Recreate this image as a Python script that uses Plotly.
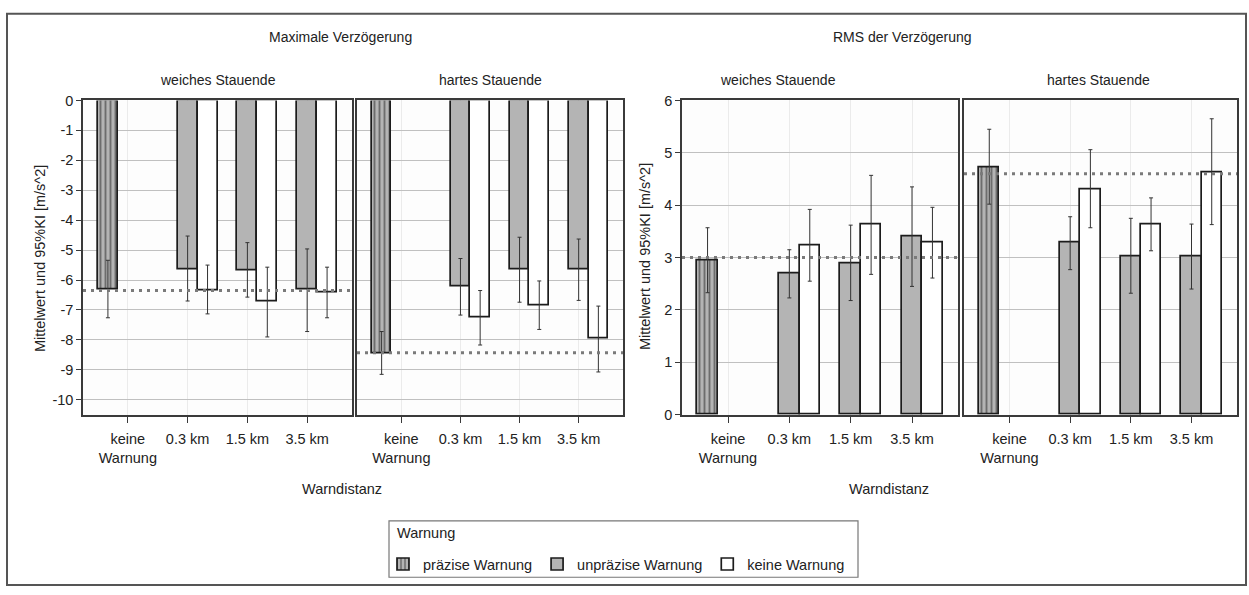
import plotly.graph_objects as go

W, H = 1249, 595

# ---------------- data ----------------
categories = ["keine<br>Warnung", "0.3 km", "1.5 km", "3.5 km"]
series_names = ["präzise Warnung", "unpräzise Warnung", "keine Warnung"]
y_ticks_max = [0, -1, -2, -3, -4, -5, -6, -7, -8, -9, -10]
y_ticks_rms = [0, 1, 2, 3, 4, 5, 6]

# Maximale Verzögerung - weiches Stauende
max_weich_praez = [-6.32, None, None, None]
max_weich_praez_lo = [-7.26, None, None, None]
max_weich_praez_hi = [-5.34, None, None, None]
max_weich_unpraez = [None, -5.63, -5.67, -6.32]
max_weich_unpraez_lo = [None, -6.70, -6.57, -7.72]
max_weich_unpraez_hi = [None, -4.53, -4.75, -4.96]
max_weich_keine = [None, -6.35, -6.73, -6.42]
max_weich_keine_lo = [None, -7.13, -7.90, -7.26]
max_weich_keine_hi = [None, -5.50, -5.57, -5.57]

# Maximale Verzögerung - hartes Stauende
max_hart_praez = [-8.44, None, None, None]
max_hart_praez_lo = [-9.15, None, None, None]
max_hart_praez_hi = [-7.72, None, None, None]
max_hart_unpraez = [None, -6.22, -5.66, -5.66]
max_hart_unpraez_lo = [None, -7.17, -6.74, -6.68]
max_hart_unpraez_hi = [None, -5.28, -4.57, -4.63]
max_hart_keine = [None, -7.26, -6.84, -7.96]
max_hart_keine_lo = [None, -8.17, -7.65, -9.07]
max_hart_keine_hi = [None, -6.35, -6.03, -6.87]

# RMS der Verzögerung - weiches Stauende
rms_weich_praez = [2.95, None, None, None]
rms_weich_praez_lo = [2.33, None, None, None]
rms_weich_praez_hi = [3.57, None, None, None]
rms_weich_unpraez = [None, 2.69, 2.89, 3.40]
rms_weich_unpraez_lo = [None, 2.23, 2.18, 2.45]
rms_weich_unpraez_hi = [None, 3.15, 3.62, 4.35]
rms_weich_keine = [None, 3.24, 3.63, 3.28]
rms_weich_keine_lo = [None, 2.55, 2.68, 2.61]
rms_weich_keine_hi = [None, 3.92, 4.57, 3.96]

# RMS der Verzögerung - hartes Stauende
rms_hart_praez = [4.73, None, None, None]
rms_hart_praez_lo = [4.02, None, None, None]
rms_hart_praez_hi = [5.45, None, None, None]
rms_hart_unpraez = [None, 3.28, 3.03, 3.03]
rms_hart_unpraez_lo = [None, 2.77, 2.32, 2.40]
rms_hart_unpraez_hi = [None, 3.78, 3.75, 3.64]
rms_hart_keine = [None, 4.31, 3.64, 4.63]
rms_hart_keine_lo = [None, 3.57, 3.13, 3.63]
rms_hart_keine_hi = [None, 5.06, 4.14, 5.65]

# reference (dotted) lines, one per panel
ref_lines = [-6.35, -8.43, 3.00, 4.60]

# ---------------- styling ----------------
FONT = "Liberation Sans, Arial, sans-serif"
TXT = "#222222"
EDGE = "#1c1c1c"
GRAY = "#b4b4b4"
FS = 14.5

styles = [
    dict(color=GRAY, pattern=dict(shape="|", fgcolor="#262626", bgcolor=GRAY, size=5, solidity=0.38)),
    dict(color=GRAY),
    dict(color="#ffffff"),
]

panels = [
    ("x", "y", [(max_weich_praez, max_weich_praez_lo, max_weich_praez_hi),
                (max_weich_unpraez, max_weich_unpraez_lo, max_weich_unpraez_hi),
                (max_weich_keine, max_weich_keine_lo, max_weich_keine_hi)]),
    ("x2", "y2", [(max_hart_praez, max_hart_praez_lo, max_hart_praez_hi),
                  (max_hart_unpraez, max_hart_unpraez_lo, max_hart_unpraez_hi),
                  (max_hart_keine, max_hart_keine_lo, max_hart_keine_hi)]),
    ("x3", "y3", [(rms_weich_praez, rms_weich_praez_lo, rms_weich_praez_hi),
                  (rms_weich_unpraez, rms_weich_unpraez_lo, rms_weich_unpraez_hi),
                  (rms_weich_keine, rms_weich_keine_lo, rms_weich_keine_hi)]),
    ("x4", "y4", [(rms_hart_praez, rms_hart_praez_lo, rms_hart_praez_hi),
                  (rms_hart_unpraez, rms_hart_unpraez_lo, rms_hart_unpraez_hi),
                  (rms_hart_keine, rms_hart_keine_lo, rms_hart_keine_hi)]),
]

fig = go.Figure()

for pi, (xa, ya, series) in enumerate(panels):
    for si, (mean, lo, hi) in enumerate(series):
        plus = [None if m is None else (max(a, b) - m) for m, a, b in zip(mean, lo, hi)]
        minus = [None if m is None else (m - min(a, b)) for m, a, b in zip(mean, lo, hi)]
        marker = dict(line=dict(color=EDGE, width=1.7))
        marker.update(styles[si])
        fig.add_trace(go.Bar(
            x=categories, y=mean, xaxis=xa, yaxis=ya,
            name=series_names[si], legendgroup=series_names[si],
            showlegend=(pi == 0), marker=marker,
            error_y=dict(type="data", symmetric=False, array=plus, arrayminus=minus,
                         color="#333333", thickness=1, width=2),
        ))

# ---------------- axes ----------------
def px_x(v):
    return v / W

def px_y(v):
    return 1 - v / H

panel_x = [(83, 352), (357, 623), (682, 958), (964, 1237)]
top, bottom = 95, 418

common_x = dict(type="category", range=[-0.75, 3.75], showline=True, mirror=True,
                linecolor="#3a3a3a", linewidth=1.5, ticks="outside", ticklen=6,
                tickcolor="#3a3a3a", showgrid=True, gridcolor="#ebebeb", gridwidth=1,
                tickfont=dict(size=FS, color=TXT, family=FONT), zeroline=False,
                ticklabelstandoff=4, fixedrange=True)
common_y = dict(showline=True, mirror=True, linecolor="#3a3a3a", linewidth=1.5,
                showgrid=True, gridcolor="#c0c0c0", gridwidth=1, zeroline=False,
                tickfont=dict(size=FS, color=TXT, family=FONT), fixedrange=True)

layout_axes = {}
for i, (x0, x1) in enumerate(panel_x):
    n = "" if i == 0 else str(i + 1)
    layout_axes["xaxis" + n] = dict(common_x, domain=[px_x(x0), px_x(x1)], anchor="y" + n)
    yd = dict(common_y, domain=[px_y(bottom), px_y(top)], anchor="x" + n)
    ticks = y_ticks_max if i in (0, 1) else y_ticks_rms
    yd.update(range=[-10.5, 0] if i in (0, 1) else [0, 6],
              tickvals=ticks, ticktext=[str(t) for t in ticks])
    if i in (0, 2):
        yd.update(ticks="outside", ticklen=5, tickcolor="#3a3a3a")
    else:
        yd.update(showticklabels=False, ticks="")
    layout_axes["yaxis" + n] = yd

fig.update_layout(**layout_axes)

# ---------------- shapes ----------------
shapes = []
for i, v in enumerate(ref_lines):
    n = "" if i == 0 else str(i + 1)
    shapes.append(dict(type="line", xref=("x" + n) + " domain", yref="y" + n,
                       x0=0, x1=1, y0=v, y1=v,
                       line=dict(color="#7a7a7a", width=3, dash="3px,5px")))
# outer frame
shapes.append(dict(type="rect", xref="paper", yref="paper",
                   x0=px_x(7), x1=px_x(1246), y0=px_y(593), y1=px_y(6),
                   line=dict(color="#555555", width=2)))
# legend frame
shapes.append(dict(type="rect", xref="paper", yref="paper", layer="below",
                   x0=px_x(389), x1=px_x(858), y0=px_y(585), y1=px_y(527),
                   line=dict(color="#777777", width=1.2), fillcolor="#ffffff"))

# ---------------- annotations ----------------
def ann(text, x, y, size=FS, angle=0, xanchor="center"):
    return dict(text=text, x=px_x(x), y=px_y(y), xref="paper", yref="paper",
                showarrow=False, xanchor=xanchor, yanchor="middle", textangle=angle,
                font=dict(size=size, color=TXT, family=FONT))

annotations = [
    ann("Maximale Verzögerung", 340, 30, size=14),
    ann("RMS der Verzögerung", 903, 30, size=14),
    ann("weiches Stauende", 218, 74, size=14),
    ann("hartes Stauende", 490, 74, size=14),
    ann("weiches Stauende", 778, 74, size=14),
    ann("hartes Stauende", 1098, 74, size=14),
    ann("Warndistanz", 342, 494),
    ann("Warndistanz", 889, 494),
    ann("Mittelwert und 95%KI [m/s^2]", 40, 258, angle=-90),
    ann("Mittelwert und 95%KI [m/s^2]", 645, 256, angle=-90),
    ann("Warnung", 395, 540, xanchor="left"),
]

fig.update_layout(
    width=W, height=H,
    margin=dict(l=0, r=0, t=0, b=0),
    paper_bgcolor="#ffffff",
    plot_bgcolor="#fdfdfd",
    barmode="group", bargap=0, bargroupgap=0,
    font=dict(family=FONT, size=FS, color=TXT),
    shapes=shapes,
    annotations=annotations,
    legend=dict(orientation="h", x=px_x(383), y=px_y(555), xanchor="left", yanchor="top",
                borderwidth=0, bgcolor="rgba(0,0,0,0)",
                font=dict(size=FS, color=TXT, family=FONT),
                itemclick=False, itemdoubleclick=False, itemwidth=30,
                tracegroupgap=0),
)

fig.write_html("out.html")
